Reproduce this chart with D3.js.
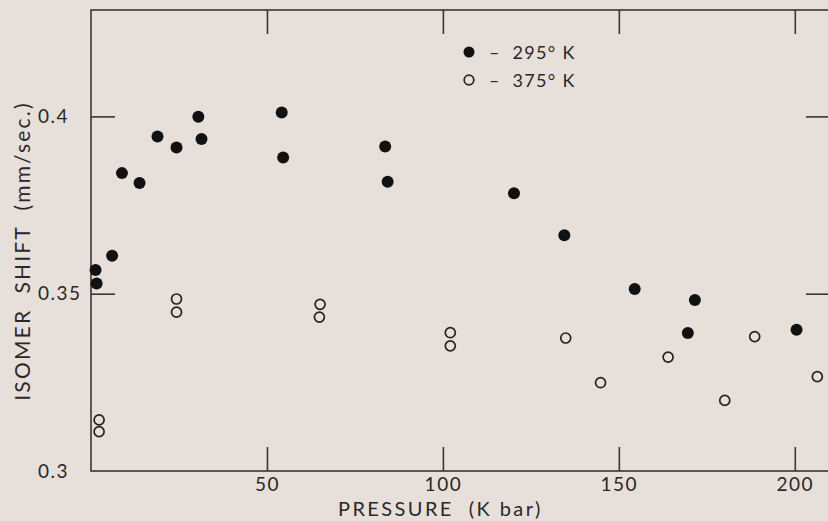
<!DOCTYPE html>
<html>
<head>
<meta charset="utf-8">
<script src="https://cdn.jsdelivr.net/npm/d3@7"></script>
<style>
  body { margin: 0; background: #e7e0da; }
  svg { display: block; }
  text { font-family: "Lato", "Liberation Sans", sans-serif; fill: #2b2727; white-space: pre; }
</style>
</head>
<body>
<div id="chart"></div>
<script>
// isomer shift vs pressure
var p295 = [1.3, 1.6, 6.0, 8.8, 13.8, 18.9, 24.3, 30.5, 31.4, 54.2, 54.6, 83.6, 84.3, 120.2, 134.5, 154.5, 171.6, 169.6, 200.5];
var s295 = [0.3567, 0.3529, 0.3607, 0.3840, 0.3812, 0.3943, 0.3912, 0.3999, 0.3936, 0.4011, 0.3884, 0.3915, 0.3816, 0.3783, 0.3665, 0.3513, 0.3482, 0.3389, 0.3398];

var p375 = [2.3, 2.3, 24.3, 24.3, 65.1, 64.9, 102.1, 102.1, 134.9, 144.8, 164.0, 180.1, 188.6, 206.4];
var s375 = [0.3144, 0.3111, 0.3485, 0.3448, 0.3470, 0.3434, 0.3390, 0.3353, 0.3375, 0.3249, 0.3321, 0.3199, 0.3379, 0.3266];

var legendLabels = ["\u2013  295\u00b0 K", "\u2013  375\u00b0 K"];
var xTicks = [50, 100, 150, 200];
var yTicks = [0.3, 0.35, 0.4];

var width = 828,
  height = 521;

var svg = d3.select('#chart')
  .append('svg')
  .attr('width', width)
  .attr('height', height)

var x = d3.scaleLinear().domain([0, 210]).range([91, 830])
var y = d3.scaleLinear().domain([0.3, 0.43]).range([471, 10])

var ink = "#3a3434";

// frame
svg.append("rect")
  .attr("x", x(0))
  .attr("y", y(0.43))
  .attr("width", x(210) - x(0))
  .attr("height", y(0.3) - y(0.43))
  .attr("fill", "none")
  .attr("stroke", ink)
  .attr("stroke-width", 1.6)

function styleAxis(g) {
  g.select(".domain").remove();
  g.selectAll(".tick line").attr("stroke", ink).attr("stroke-width", 1.6);
  g.selectAll(".tick text")
    .style("font-size", "19px")
    .style("letter-spacing", "1.5px")
    .attr("fill", "#2b2727");
}

svg.append("g")
  .attr("transform", "translate(0," + y(0.3) + ")")
  .call(d3.axisBottom(x).tickValues(xTicks).tickSize(-24).tickPadding(7).tickFormat(d3.format("d")))
  .call(styleAxis)

svg.append("g")
  .attr("transform", "translate(0," + y(0.43) + ")")
  .call(d3.axisTop(x).tickValues(xTicks).tickSize(-24).tickFormat(""))
  .call(styleAxis)

// y labels are left aligned in the original lettering
svg.append("g")
  .attr("transform", "translate(" + x(0) + ",0)")
  .call(d3.axisLeft(y).tickValues(yTicks).tickSize(-24).tickFormat(d => String(d)))
  .call(styleAxis)
  .call(g => g.selectAll(".tick line").filter(d => d == 0.3).remove())
  .call(g => g.selectAll(".tick text").attr("text-anchor", "start").attr("x", 38 - x(0)))

svg.append("g")
  .attr("transform", "translate(" + x(210) + ",0)")
  .call(d3.axisRight(y).tickValues([0.35, 0.4]).tickSize(-24).tickFormat(""))
  .call(styleAxis)

// axis titles
svg.append("text")
  .attr("x", 338)
  .attr("y", 516)
  .style("font-size", "20px")
  .style("letter-spacing", "2.4px")
  .text("PRESSURE  (K bar)")

svg.append("text")
  .attr("transform", "translate(30,251) rotate(-90)")
  .attr("text-anchor", "middle")
  .style("font-size", "21px")
  .style("letter-spacing", "2.2px")
  .text("ISOMER  SHIFT  (mm/sec.)")

// points
var d295 = p295.map((p, i) => ({ p: p, s: s295[i] }));
var d375 = p375.map((p, i) => ({ p: p, s: s375[i] }));

svg.selectAll('circle.warm')
  .data(d295)
  .join('circle')
  .attr('class', 'warm')
  .attr('cx', d => x(d.p))
  .attr('cy', d => y(d.s))
  .attr('r', 6)
  .attr('fill', '#111')

svg.selectAll('circle.hot')
  .data(d375)
  .join('circle')
  .attr('class', 'hot')
  .attr('cx', d => x(d.p))
  .attr('cy', d => y(d.s))
  .attr('r', 5)
  .attr('fill', 'none')
  .attr('stroke', '#222')
  .attr('stroke-width', 1.7)

// legend
var legend = svg.append("g")
  .selectAll("g")
  .data(legendLabels)
  .join("g")
  .attr("transform", (d, i) => "translate(469," + (52 + i * 28) + ")")

legend.append("circle")
  .attr("r", (d, i) => i == 0 ? 5.5 : 4.8)
  .attr("fill", (d, i) => i == 0 ? "#111" : "none")
  .attr("stroke", (d, i) => i == 0 ? "none" : "#222")
  .attr("stroke-width", 1.7)

legend.append("text")
  .attr("x", 20)
  .attr("y", 5)
  .attr("dy", "0.1em")
  .style("font-size", "18px")
  .style("letter-spacing", "1.3px")
  .text(d => d)
</script>
</body>
</html>
